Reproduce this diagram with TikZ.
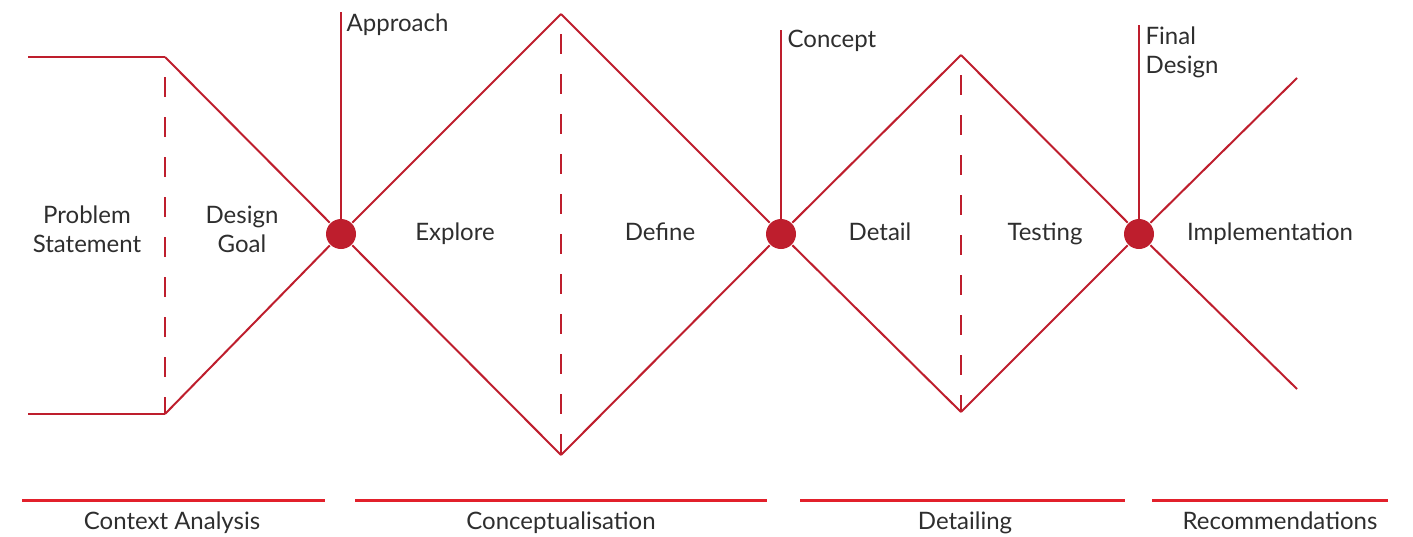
\documentclass[tikz,border=0pt]{standalone}
\usepackage{fontspec}
\setmainfont{Lato}
\definecolor{dred}{HTML}{BE1E2D}
\definecolor{bred}{HTML}{E2202B}
\definecolor{dgray}{HTML}{2E2E2E}

\begin{document}
\begin{tikzpicture}[x=0.5pt,y=-0.5pt,line width=1pt,dred,
		hub/.style={circle,fill=dred,inner sep=0pt,minimum size=15pt},
		label node/.style={text=dgray,font=\fontsize{12}{14.5}\selectfont,align=center},
		mark line/.style={line width=0.6pt},
		split/.style={dash pattern=on 10pt off 10pt,dash phase=10pt},
		bar/.style={bred,line width=1.5pt}]
		\useasboundingbox (0,0) rectangle (1413,536);
		
		% milestones
		\node[hub] (h1) at (341,234) {};
		\node[hub] (h2) at (781,234) {};
		\node[hub] (h3) at (1139,234) {};
		
		\coordinate (a0) at (28,57);
		\coordinate (a1) at (165,57);
		\coordinate (b0) at (28,414);
		\coordinate (b1) at (165,414);
		\coordinate (t1) at (561,14);
		\coordinate (u1) at (561,455);
		\coordinate (t2) at (961,55);
		\coordinate (u2) at (961,412);
		\coordinate (e1) at (1297,78);
		\coordinate (e2) at (1297,389);
		\coordinate (m1) at (341,12);
		\coordinate (m2) at (781,30);
		\coordinate (m3) at (1139,25);
		
		\path
		(a0) edge (a1)
		(b0) edge (b1)
		(a1) edge (h1)
		(b1) edge (h1)
		(h1) edge (t1)
		(h1) edge (u1)
		(t1) edge (h2)
		(u1) edge (h2)
		(h2) edge (t2)
		(h2) edge (u2)
		(t2) edge (h3)
		(u2) edge (h3)
		(h3) edge (e1)
		(h3) edge (e2)
		;
		\path[split]
		(a1) edge (b1)
		(t1) edge (u1)
		(t2) edge (u2)
		;
		\path[mark line]
		(h1.center) edge (m1)
		(h2.center) edge (m2)
		(h3.center) edge (m3)
		;
		
		\node[label node,anchor=base west] (approach) at (339,31) {Approach};
		\node[label node,anchor=base west] (concept) at (780,47) {Concept};
		\node[label node,anchor=west,align=left] (final) at (1138,52) {Final\\Design};
		
		\node[label node] (problem) at (87,229) {Problem\\Statement};
		\node[label node] (goal) at (242,229) {Design\\Goal};
		\node[label node,anchor=base] (explore) at (455,240) {Explore};
		\node[label node,anchor=base] (define) at (660,240) {Define};
		\node[label node,anchor=base] (detail) at (880,240) {Detail};
		\node[label node,anchor=base] (testing) at (1045,240) {Testing};
		\node[label node,anchor=base] (impl) at (1270,240) {Implementation};
		
		% phases
		\draw[bar] (22,500) -- (325,500);
		\draw[bar] (355,500) -- (767,500);
		\draw[bar] (800,500) -- (1125,500);
		\draw[bar] (1152,500) -- (1388,500);
		\node[label node,anchor=base] (context) at (172,529) {Context Analysis};
		\node[label node,anchor=base] (concept phase) at (561,529) {Conceptualisation};
		\node[label node,anchor=base] (detailing) at (965,529) {Detailing};
		\node[label node,anchor=base] (recommend) at (1280,529) {Recommendations};
	\end{tikzpicture}
\end{document}
